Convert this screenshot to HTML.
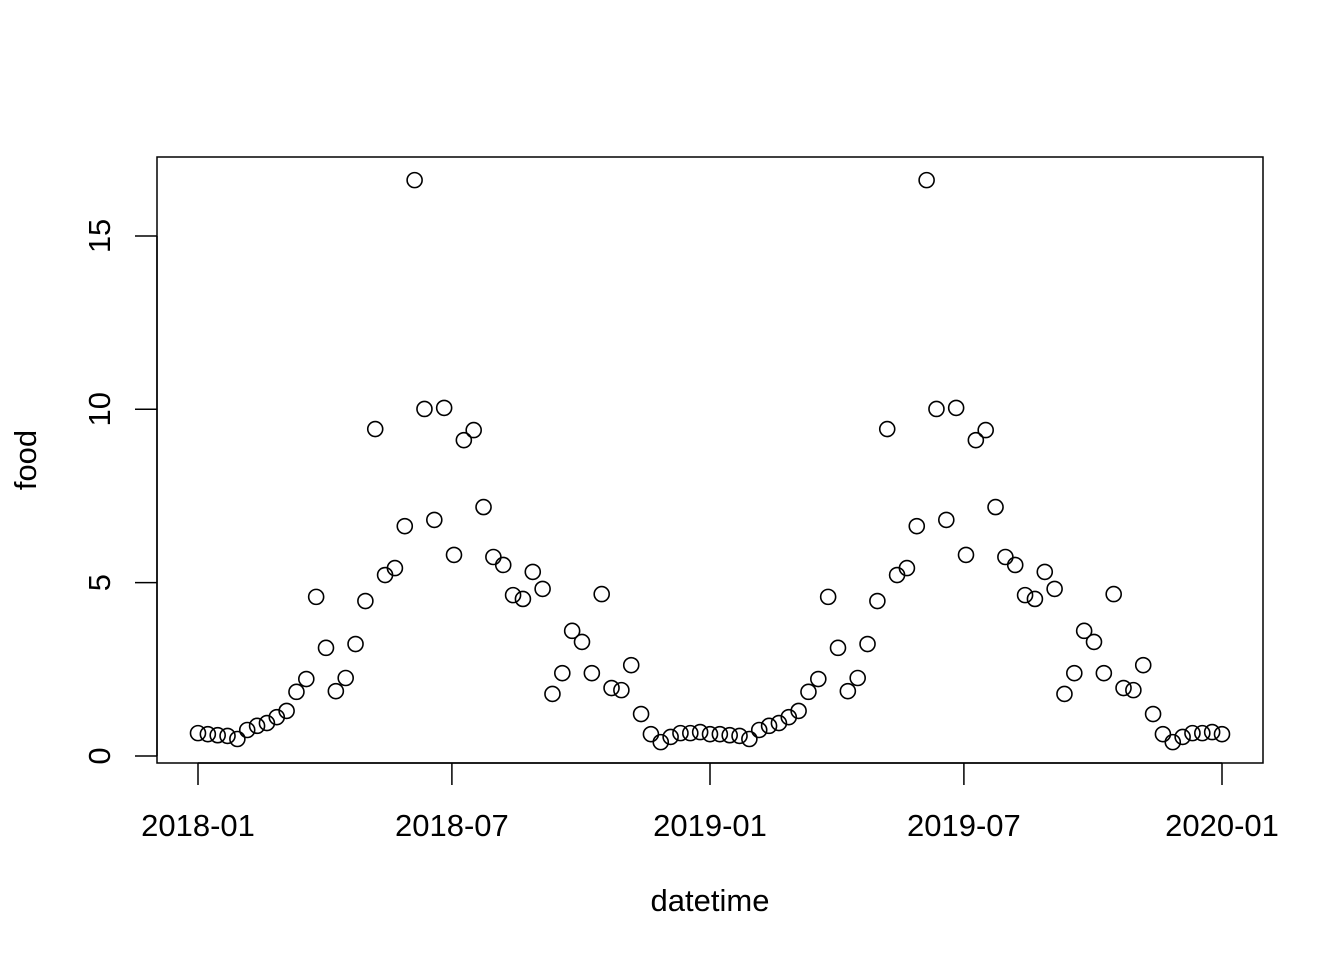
<!DOCTYPE html>
<html><head><meta charset="utf-8"><style>
html,body{margin:0;padding:0;background:#fff;}
svg text{font-family:"Liberation Sans",Arial,sans-serif;font-size:31px;fill:#000;}
</style></head><body>
<svg id="chart" width="1344" height="960" xmlns="http://www.w3.org/2000/svg">
<rect x="157" y="157" width="1106" height="606" fill="none" stroke="#000" stroke-width="1.5"/>
<g id="xaxis"></g>
<g id="yaxis"></g>
<g id="points"></g>
<text x="710" y="911" text-anchor="middle">datetime</text>
<text x="0" y="0" transform="translate(36,460) rotate(-90)" text-anchor="middle">food</text>
</svg>
<script>
const year1 = [0.66,0.63,0.60,0.58,0.49,0.75,0.87,0.95,1.12,1.30,1.85,2.22,4.59,3.12,1.87,2.25,3.23,4.47,9.43,5.22,5.42,6.63,16.61,10.01,6.81,10.04,5.80,9.11,9.40,7.18,5.74,5.51,4.64,4.53,5.31,4.82,1.79,2.39,3.61,3.29,2.39,4.67,1.96,1.90,2.62,1.21,0.63,0.40,0.55,0.66,0.66,0.69];
const year2 = [0.63,0.63,0.60,0.58,0.49,0.75,0.87,0.95,1.12,1.30,1.85,2.22,4.59,3.12,1.87,2.25,3.23,4.47,9.43,5.22,5.42,6.63,16.61,10.01,6.81,10.04,5.80,9.11,9.40,7.18,5.74,5.51,4.64,4.53,5.31,4.82,1.79,2.39,3.61,3.29,2.39,4.67,1.96,1.90,2.62,1.21,0.63,0.40,0.55,0.66,0.66,0.69,0.63];
const food = year1.concat(year2);
const xTickDays = [0,181,365,546,730];
const xTickLabels = ["2018-01","2018-07","2019-01","2019-07","2020-01"];
const yTicks = [0,5,10,15];

const NS="http://www.w3.org/2000/svg";
function xScale(d){return 198 + d*(1222-198)/730;}
function yScale(v){return 756 - v*34.67;}
const totalDays=730, n=food.length;

const xa=document.getElementById('xaxis');
let base=document.createElementNS(NS,'line');
base.setAttribute('x1',xScale(0));base.setAttribute('x2',xScale(730));
base.setAttribute('y1',763);base.setAttribute('y2',763);base.setAttribute('stroke','#000');base.setAttribute('stroke-width','1.5');


xa.appendChild(base);
xTickDays.forEach((d,i)=>{
  const t=document.createElementNS(NS,'line');
  t.setAttribute('x1',xScale(d));t.setAttribute('x2',xScale(d));t.setAttribute('y1',763);t.setAttribute('y2',785);
  t.setAttribute('stroke','#000');t.setAttribute('stroke-width','1.5');
  
  
  xa.appendChild(t);
  const l=document.createElementNS(NS,'text');
  l.setAttribute('x',xScale(d));l.setAttribute('y',836);l.setAttribute('text-anchor','middle');
  l.textContent=xTickLabels[i];
  
  
  xa.appendChild(l);
});
const ya=document.getElementById('yaxis');
let yb=document.createElementNS(NS,'line');
yb.setAttribute('x1',157);yb.setAttribute('x2',157);
yb.setAttribute('y1',yScale(0));yb.setAttribute('y2',yScale(15));yb.setAttribute('stroke','#000');yb.setAttribute('stroke-width','1.5');


ya.appendChild(yb);
yTicks.forEach(v=>{
  const t=document.createElementNS(NS,'line');
  t.setAttribute('x1',135);t.setAttribute('x2',157);t.setAttribute('y1',yScale(v));t.setAttribute('y2',yScale(v));
  t.setAttribute('stroke','#000');t.setAttribute('stroke-width','1.5');
  
  
  ya.appendChild(t);
  const l=document.createElementNS(NS,'text');
  l.setAttribute('transform','translate(110,'+yScale(v)+') rotate(-90)');
  l.setAttribute('text-anchor','middle');
  l.textContent=String(v);
  
  
  ya.appendChild(l);
});
const pg=document.getElementById('points');
food.forEach((v,i)=>{
  const c=document.createElementNS(NS,'circle');
  c.setAttribute('cx',xScale(i*totalDays/(n-1)));c.setAttribute('cy',yScale(v));c.setAttribute('r',7.5);
  c.setAttribute('fill','none');c.setAttribute('stroke','#000');c.setAttribute('stroke-width','1.6');
  
  
  pg.appendChild(c);
});
</script>
</body></html>
